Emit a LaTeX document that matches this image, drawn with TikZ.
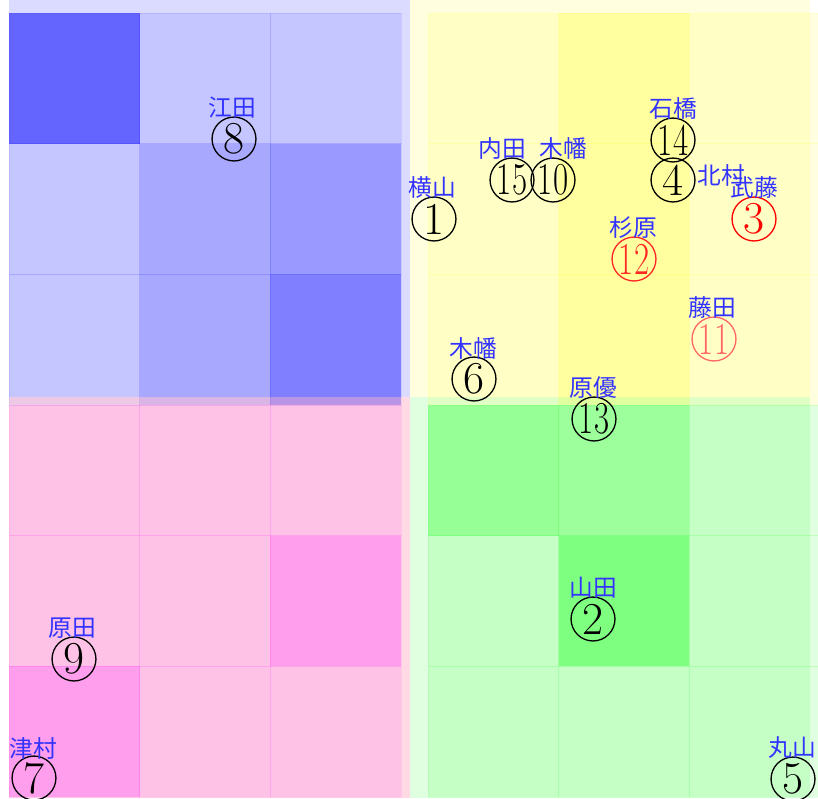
\documentclass[tikz,border=0pt]{standalone}
\usepackage{graphicx}
\usepackage{fontspec}
\newfontfamily\jpfont{Noto Sans CJK JP}
\newcommand{\twodig}[1]{\scalebox{.72}[1]{#1}}
\definecolor{ylw}{RGB}{255,255,0}
\definecolor{mgt}{RGB}{255,0,255}
\definecolor{pinkbase}{RGB}{255,150,180}

\begin{document}
\begin{tikzpicture}[x=0.02cm, y=-0.02cm,
  num/.style={draw, circle, minimum size=25pt, inner sep=0pt, line width=0.75pt,
              font=\fontsize{26}{26}\selectfont},
  nm/.style={text=blue!80, inner sep=0pt, font=\jpfont\fontsize{13.5}{14}\selectfont},
  cell/.style={line width=0.4pt, draw opacity=.08}
]
  \useasboundingbox (0,0) rectangle (818,798);
  % blue panel
  \fill[blue, opacity=.14] (9,0) rectangle (410,397);
  \foreach \c/\r/\o in {0/0/.54, 1/0/.10, 2/0/.10, 0/1/.10, 1/1/.23, 2/1/.30,
                        0/2/.10, 1/2/.23, 2/2/.42}
    \filldraw[blue, fill opacity=\o, cell] ({9+130.67*\c},{13+130.67*\r}) rectangle +(130.67,130.67);
  % yellow panel
  \fill[ylw, opacity=.12] (410,0) rectangle (810,397);
  \foreach \c/\r/\o in {0/0/.12, 1/0/.29, 2/0/.12, 0/1/.12, 1/1/.29, 2/1/.12,
                        0/2/.12, 1/2/.29, 2/2/.12}
    \filldraw[ylw, fill opacity=\o, cell] ({428+130.67*\c},{13+130.67*\r}) rectangle +(130.67,130.67);
  % pink panel
  \fill[pinkbase, opacity=.35] (9,397) rectangle (410,798);
  \foreach \c/\r/\o in {0/0/.11, 1/0/.11, 2/0/.11, 0/1/.11, 1/1/.11, 2/1/.28,
                        0/2/.28, 1/2/.11, 2/2/.11}
    \filldraw[mgt, fill opacity=\o, cell] ({9+130.67*\c},{405+130.67*\r}) rectangle +(130.67,130.67);
  % green panel
  \fill[green, opacity=.12] (410,397) rectangle (810,798);
  \foreach \c/\r/\o in {0/0/.33, 1/0/.30, 2/0/.12, 0/1/.12, 1/1/.43, 2/1/.12,
                        0/2/.12, 1/2/.12, 2/2/.12}
    \filldraw[green, fill opacity=\o, cell] ({428+130.67*\c},{405+130.67*\r}) rectangle +(130.67,130.67);

  % members
  \node[num] (n1)  at (434,219) {1};
  \node[num] (n2)  at (593,619) {2};
  \node[num, red] (n3) at (754,219) {3};
  \node[num] (n4)  at (673,180) {4};
  \node[num] (n5)  at (793,779) {5};
  \node[num] (n6)  at (474,379) {6};
  \node[num] (n7)  at (34,778)  {7};
  \node[num] (n8)  at (234,139) {8};
  \node[num] (n9)  at (74,659)  {9};
  \node[num] (n10) at (553,180) {\twodig{10}};
  \node[num, red!60] (n11) at (714,339) {\twodig{11}};
  \node[num, red!85] (n12) at (634,259) {\twodig{12}};
  \node[num] (n13) at (594,419) {\twodig{13}};
  \node[num] (n14) at (673,140) {\twodig{14}};
  \node[num] (n15) at (512,180) {\twodig{15}};

  \node[nm] (l1)  at (432,188) {横山};
  \node[nm] (l2)  at (593,588) {山田};
  \node[nm] (l3)  at (754,188) {武藤};
  \node[nm] (l4)  at (721,175) {北村};
  \node[nm] (l5)  at (792,748) {丸山};
  \node[nm] (l6)  at (473,348) {木幡};
  \node[nm] (l7)  at (33,748)  {津村};
  \node[nm] (l8)  at (232,108) {江田};
  \node[nm] (l9)  at (72,628)  {原田};
  \node[nm] (l10) at (563,148) {木幡};
  \node[nm] (l11) at (712,308) {藤田};
  \node[nm] (l12) at (633,228) {杉原};
  \node[nm] (l13) at (593,388) {原優};
  \node[nm] (l14) at (673,108) {石橋};
  \node[nm] (l15) at (502,149) {内田};
\end{tikzpicture}
\end{document}
